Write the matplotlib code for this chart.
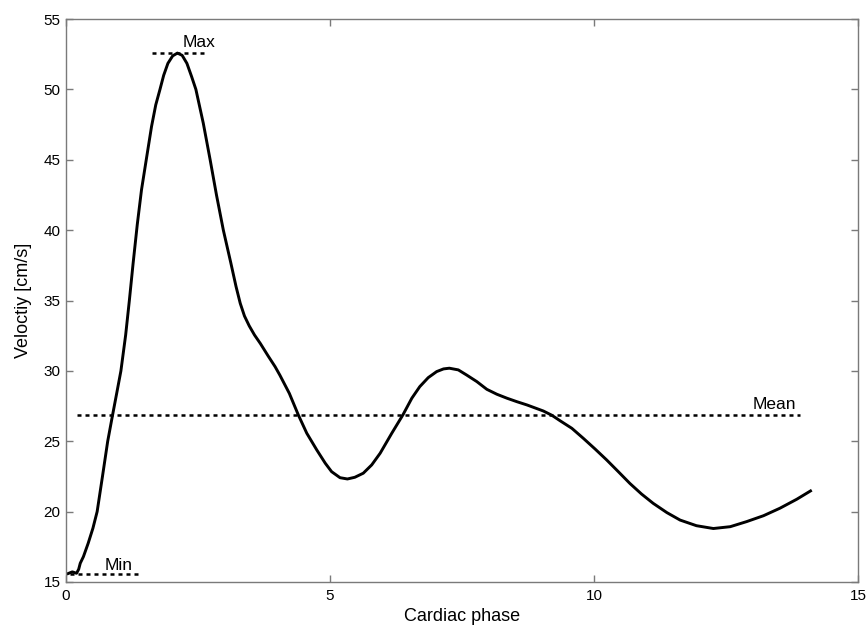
import matplotlib
matplotlib.use('Agg')
import matplotlib.pyplot as plt

plt.rcParams['font.family'] = ['Liberation Sans', 'DejaVu Sans']

# velocity curve
phase = [0.04, 0.12, 0.20, 0.24, 0.27, 0.33, 0.42, 0.51, 0.59, 0.69,
         0.79, 0.88, 0.96, 1.04, 1.13, 1.20, 1.27, 1.35, 1.43, 1.52, 1.62,
         1.70, 1.78, 1.85, 1.93, 2.02, 2.11, 2.20, 2.29, 2.38, 2.46, 2.60, 2.73, 2.85,
         2.98, 3.12, 3.22, 3.30, 3.38, 3.47, 3.57, 3.68, 3.83, 3.96, 4.05,
         4.23, 4.40, 4.56, 4.75, 4.91, 5.03, 5.19, 5.33, 5.47, 5.63,
         5.79, 5.95, 6.17, 6.38, 6.55, 6.70, 6.86, 7.02, 7.15, 7.26,
         7.43, 7.59, 7.78, 7.97, 8.16, 8.35, 8.54, 8.73, 9.04, 9.20,
         9.36, 9.58, 9.80, 10.02, 10.24, 10.46, 10.68, 10.90, 11.12, 11.38,
         11.63, 11.94, 12.26, 12.58, 12.89, 13.21, 13.52, 13.84, 14.10]
velocity = [15.60, 15.72, 15.62, 15.90, 16.33, 16.80, 17.75, 18.82, 20.0, 22.48,
            25.0, 26.82, 28.40, 30.0, 32.55, 35.0, 37.6, 40.4, 42.86, 45.0, 47.36,
            48.9, 50.0, 51.0, 51.85, 52.38, 52.58, 52.42, 51.85, 50.9, 50.0, 47.6, 45.0, 42.5,
            40.0, 37.7, 36.0, 34.8, 33.9, 33.2, 32.55, 31.95, 31.05, 30.3, 29.7,
            28.4, 26.87, 25.57, 24.38, 23.44, 22.84, 22.41, 22.32, 22.44, 22.73,
            23.32, 24.15, 25.57, 26.87, 28.06, 28.88, 29.52, 29.95, 30.14, 30.19,
            30.07, 29.7, 29.24, 28.69, 28.34, 28.06, 27.81, 27.58, 27.15, 26.85,
            26.45, 25.92, 25.2, 24.45, 23.67, 22.84, 22.0, 21.25, 20.59, 19.93,
            19.4, 19.0, 18.8, 18.93, 19.29, 19.71, 20.24, 20.88, 21.47]

v_min = 15.55
v_max = 52.62
v_mean = 26.85

fig = plt.figure(figsize=(8.66, 6.3), dpi=100)
ax = fig.add_axes([0.0762, 0.0762, 0.9146, 0.8936])

ax.plot(phase, velocity, color='black', lw=2.1, solid_joinstyle='round')

dash = dict(color='black', lw=1.8, dashes=(1.6, 1.6))
ax.plot([0.2, 13.9], [v_mean, v_mean], **dash)
ax.plot([1.62, 2.62], [v_max, v_max], **dash)
ax.plot([0.07, 1.37], [v_min, v_min], **dash)

ax.text(13.0, v_mean + 0.75, 'Mean', fontsize=12.5, va='center', ha='left')
ax.text(2.21, v_max + 0.7, 'Max', fontsize=12.5, va='center', ha='left')
ax.text(0.74, v_min + 0.6, 'Min', fontsize=12.5, va='center', ha='left')

ax.set_xlim(0, 15)
ax.set_ylim(15, 55)
ax.set_xticks([0, 5, 10, 15])
ax.set_yticks([15, 20, 25, 30, 35, 40, 45, 50, 55])

for s in ax.spines.values():
    s.set_color('#7a7a7a')
    s.set_linewidth(1.0)
ax.tick_params(direction='in', length=5, width=1.0, color='#7a7a7a',
               labelsize=11, top=True, right=True, pad=4)
ax.tick_params(axis='x', pad=5)

ax.set_xlabel('Cardiac phase', fontsize=13, labelpad=4)
ax.set_ylabel('Veloctiy [cm/s]', fontsize=13, labelpad=8)

fig.savefig('out.png', dpi=100)
